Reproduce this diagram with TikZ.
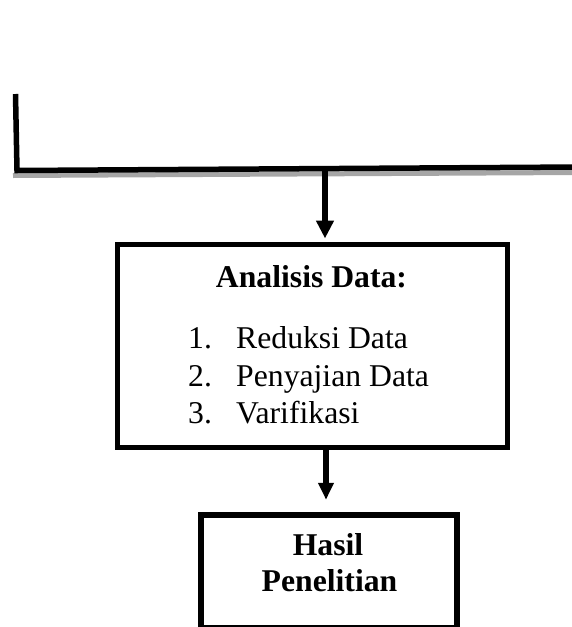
\documentclass[tikz,border=0pt]{standalone}
\usepackage{fontspec}
\setmainfont{Liberation Serif}
\usetikzlibrary{arrows.meta,calc}
\begin{document}
\begin{tikzpicture}[x=1pt,y=-1pt,
  frame/.style={draw=black,line width=5pt,inner sep=0pt,fill=none},
  bigtext/.style={font=\fontsize{31.7}{37.5}\selectfont,inner sep=0pt,anchor=base},
  listtext/.style={font=\fontsize{31.7}{37.5}\selectfont,inner sep=0pt,anchor=base west},
  flow/.style={line width=6pt,-{Triangle[width=17pt,length=18pt]}},
  shadowline/.style={line width=5pt,draw=black!35},
  thickline/.style={line width=5.5pt,draw=black}]
\useasboundingbox (0,0) rectangle (571,627);
% top bracket line
\coordinate (tl) at (15.5,94);
\coordinate (bl) at (17,170.5);
\coordinate (br) at (580,167);
\draw[shadowline] (13,175.5) -- (580,172.5);
\draw[thickline,line join=miter] (tl) -- (bl) -- (br);
% boxes
\node[frame,minimum width=390pt,minimum height=203.5pt] (box1) at (312.5,345.75) {};
\node[frame,line width=5.5pt,minimum width=256pt,minimum height=113pt] (box2) at (329,571.5) {};
% texts
\node[bigtext,font=\bfseries\fontsize{31.7}{37.5}\selectfont] (t1) at (311.5,287) {Analisis Data:};
\node[listtext] (n1) at (188,348) {1.};
\node[listtext] (l1) at (236,348) {Reduksi Data};
\node[listtext] (n2) at (188,386) {2.};
\node[listtext] (l2) at (236,386) {Penyajian Data};
\node[listtext] (n3) at (188,423) {3.};
\node[listtext] (l3) at (236,423) {Varifikasi};
\node[bigtext,font=\bfseries\fontsize{31.7}{37.5}\selectfont] (h1) at (328,555) {Hasil};
\node[bigtext,font=\bfseries\fontsize{31.7}{37.5}\selectfont] (h2) at (329.5,591.5) {Penelitian};
% arrows
\coordinate (a1s) at (325,171);
\draw[flow,shorten >=3pt] (a1s) -- (a1s |- box1.north);
\coordinate (a2s) at (326,447);
\draw[flow,-{Triangle[width=15pt,length=17pt]},shorten >=12.5pt] (a2s) -- (a2s |- box2.north);
\end{tikzpicture}
\end{document}
